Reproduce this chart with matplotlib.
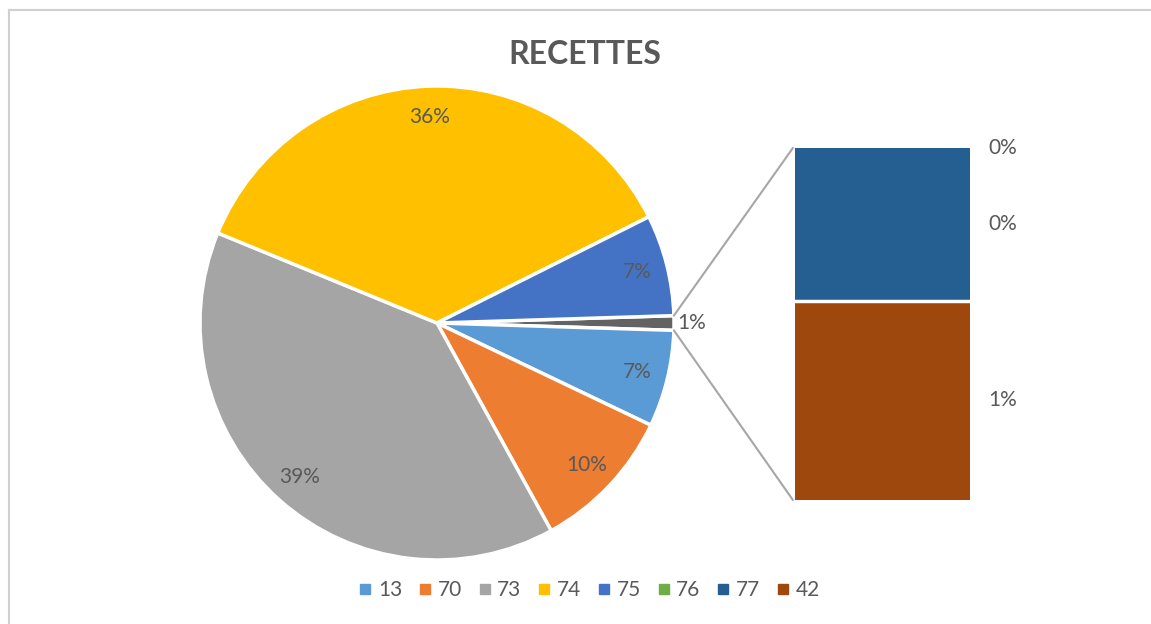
import matplotlib
matplotlib.use('Agg')
import matplotlib.pyplot as plt
from matplotlib.lines import Line2D
from matplotlib.patches import ConnectionPatch
import numpy as np

plt.rcParams['font.family'] = ['Lato', 'DejaVu Sans']

# data (share of total, in %)
categories = ['13', '70', '73', '74', '75', '76', '77', '42']
values = [6.6, 9.9, 39.2, 36.4, 6.9, 0.0, 0.43, 0.56]
colors = ['#5B9BD5', '#ED7D31', '#A5A5A5', '#FFC000', '#4472C4',
          '#70AD47', '#255E91', '#9E480E']
other_color = '#636363'
n_pie = 5  # first 5 go in the pie, the rest in the bar

text_color = '#595959'
W, H = 1151, 624
fs = 15

fig = plt.figure(figsize=(W / 100, H / 100), dpi=100)

def px_axes(x0, y0, x1, y1):
    return fig.add_axes([x0 / W, 1 - y1 / H, (x1 - x0) / W, (y1 - y0) / H])

# pie
cx, cy, r = 437, 323, 237
ax_pie = px_axes(cx - r, cy - r, cx + r, cy + r)
total = sum(values)
other = sum(values[n_pie:])
pie_vals = [other] + values[:n_pie]
pie_cols = [other_color] + colors[:n_pie]
start = other / total * 360 / 2
wedges, _ = ax_pie.pie(pie_vals, colors=pie_cols, startangle=start,
                       counterclock=False, radius=1,
                       wedgeprops=dict(edgecolor='white', linewidth=2.5))
for w, v in zip(wedges, pie_vals):
    mid = np.deg2rad((w.theta1 + w.theta2) / 2)
    pct = '%d%%' % round(v / total * 100)
    if v == other:
        ax_pie.text(1.015 * np.cos(mid), 1.015 * np.sin(mid), pct, ha='left',
                    va='center', fontsize=fs, color=text_color)
    else:
        ax_pie.text(0.87 * np.cos(mid), 0.87 * np.sin(mid), pct, ha='center',
                    va='center', fontsize=fs, color=text_color)
ax_pie.set_xlim(-1, 1)
ax_pie.set_ylim(-1, 1)
ax_pie.set_aspect('equal')
ax_pie.axis('off')

# bar of the "other" part
ax_bar = px_axes(795, 148, 970, 500)
bar_vals = values[n_pie:][::-1]   # 42 at bottom, 76 at top
bar_cols = colors[n_pie:][::-1]
bottom = 0
for i, (v, c) in enumerate(zip(bar_vals, bar_cols)):
    if v > 0:
        ax_bar.bar(0, v, bottom=bottom, width=1, color=c, linewidth=0)
    if 0 < i and v > 0:
        ax_bar.axhline(bottom, color='white', linewidth=2.5)
    ax_bar.annotate('%d%%' % round(v / total * 100), xy=(0.5, bottom + v / 2),
                    xytext=(13, 0), textcoords='offset points', ha='left',
                    va='center', fontsize=fs, color=text_color)
    bottom += v
ax_bar.set_xlim(-0.5, 0.5)
ax_bar.set_ylim(0, bottom)
ax_bar.axis('off')

# connectors
for ang, yb in [(wedges[0].theta2, 1), (wedges[0].theta1, 0)]:
    a = np.deg2rad(ang)
    con = ConnectionPatch(xyA=(np.cos(a), np.sin(a)), coordsA=ax_pie.transData,
                          xyB=(-0.012, yb), coordsB=ax_bar.transAxes,
                          color='#A6A6A6', linewidth=1.5)
    fig.add_artist(con)

fig.text(585 / W, 1 - 55 / H, 'RECETTES', ha='center', va='center',
         fontsize=23, fontweight='bold', color=text_color)

handles = [Line2D([], [], marker='s', linestyle='none', markersize=6.5,
                  markerfacecolor=c, markeredgecolor=c) for c in colors]
fig.legend(handles, categories, loc='center', ncol=8, frameon=False,
           bbox_to_anchor=(590 / W, 1 - 590 / H), fontsize=fs,
           handlelength=0.5, handletextpad=0.35, columnspacing=0.85,
           labelcolor=text_color)

# chart area border (left and top visible)
fig.add_artist(Line2D([8.5 / W, 8.5 / W], [0, 1 - 9.5 / H], color='#D0D0D0',
                      linewidth=1.5))
fig.add_artist(Line2D([8.5 / W, 1], [1 - 9.5 / H, 1 - 9.5 / H], color='#D0D0D0',
                      linewidth=1.5))

fig.savefig('out.png', dpi=100)
